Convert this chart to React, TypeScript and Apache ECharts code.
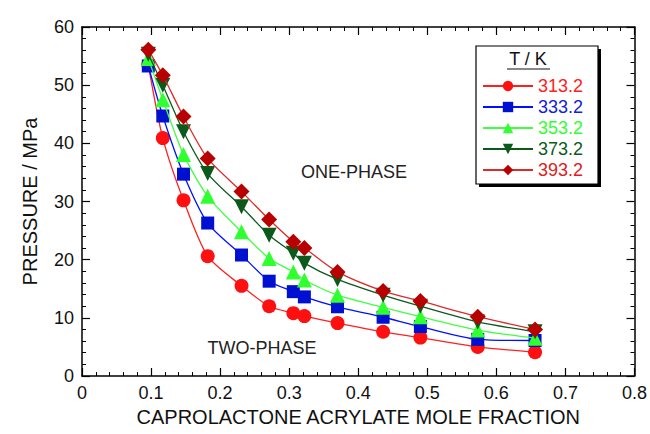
import React, { useEffect, useRef } from "react";
import * as echarts from "echarts";

const moleFraction = [0.096, 0.117, 0.147, 0.182, 0.231, 0.271, 0.306, 0.322, 0.37, 0.436, 0.49, 0.573, 0.656];
const seriesNames = ["313.2", "333.2", "353.2", "373.2", "393.2"];
const p313 = [53.5, 40.9, 30.2, 20.6, 15.5, 12.0, 10.8, 10.3, 9.1, 7.6, 6.6, 5.0, 4.1];
const p333 = [53.3, 44.7, 34.7, 26.3, 20.8, 16.3, 14.5, 13.6, 11.9, 10.1, 8.5, 6.3, 6.1];
const p353 = [54.6, 47.5, 38.1, 30.9, 24.8, 20.2, 17.9, 16.5, 13.9, 11.8, 10.2, 7.9, 6.5];
const p373 = [55.3, 50.0, 42.0, 34.8, 29.1, 24.2, 21.1, 19.4, 16.6, 13.9, 12.0, 9.3, 7.6];
const p393 = [56.1, 51.7, 44.6, 37.4, 31.7, 26.9, 23.1, 22.0, 17.9, 14.6, 12.9, 10.2, 8.0];
const xTicks = [0, 0.1, 0.2, 0.3, 0.4, 0.5, 0.6, 0.7, 0.8];
const yTicks = [0, 10, 20, 30, 40, 50, 60];

const FONT = "Liberation Sans, Arial, sans-serif";

export default function App() {
  const ref = useRef<HTMLDivElement>(null);
  useEffect(() => {
    if (!ref.current) return;
    const chart = echarts.init(ref.current, null, { renderer: "svg" });
    const pressures = [p313, p333, p353, p373, p393];
    const markerColors = ["#ff1010", "#0010d0", "#30ff30", "#0b5a1c", "#b80000"];
    const lineColors = ["#ff2020", "#0010ff", "#40ff40", "#0b5a1c", "#dd2a2a"];
    const textColors = ["#ff2020", "#1020e0", "#30ff30", "#0b5a1c", "#e02020"];
    const symbols = ["circle", "rect", "triangle", "path://M0,0 L10,0 L5,10 Z", "diamond"];
    const sizes = [14, 13, 15, 15, 16];

    const mkAxis = () => ({
      min: 0,
      axisLine: { show: true, onZero: false, lineStyle: { color: "#000", width: 1.5 } },
      axisTick: { show: true, inside: false, length: -8, lineStyle: { color: "#000", width: 1.2 } },
      minorTick: { show: true, splitNumber: 5, length: -4, lineStyle: { color: "#000", width: 1 } },
      splitLine: { show: false },
    });

    const series = seriesNames.map((name, i) => ({
      name,
      type: "line",
      data: moleFraction.map((x, j) => [x, pressures[i][j]]),
      symbol: symbols[i],
      symbolSize: sizes[i],
      smooth: 0.25,
      itemStyle: { color: markerColors[i] },
      lineStyle: { color: lineColors[i], width: 1.3 },
      z: 2 + i,
    }));

    chart.setOption({
      animation: false,
      backgroundColor: "#fff",
      grid: { left: 82, right: 14, top: 27, bottom: 58 },
      xAxis: [
        {
          ...mkAxis(),
          type: "value",
          max: 0.8,
          interval: 0.1,
          position: "bottom",
          name: "CAPROLACTONE ACRYLATE MOLE FRACTION",
          nameLocation: "middle",
          nameGap: 26,
          nameTextStyle: { fontFamily: FONT, fontSize: 20, color: "#111" },
          axisLabel: {
            fontFamily: FONT,
            fontSize: 18,
            color: "#111",
            margin: 8,
            formatter: (v: number) => {
              const t = xTicks.find((k) => Math.abs(k - v) < 1e-9);
              return t === undefined ? "" : String(t);
            },
          },
        },
        {
          ...mkAxis(),
          type: "value",
          max: 0.8,
          interval: 0.1,
          position: "top",
          axisLabel: { show: false },
        },
      ],
      yAxis: [
        {
          ...mkAxis(),
          type: "value",
          max: 60,
          interval: 10,
          position: "left",
          name: "PRESSURE / MPa",
          nameLocation: "middle",
          nameGap: 42,
          nameTextStyle: { fontFamily: FONT, fontSize: 20, color: "#111" },
          axisLabel: {
            fontFamily: FONT,
            fontSize: 18,
            color: "#111",
            margin: 8,
            formatter: (v: number) => {
              const t = yTicks.find((k) => Math.abs(k - v) < 1e-9);
              return t === undefined ? "" : String(t);
            },
          },
        },
        {
          ...mkAxis(),
          type: "value",
          max: 60,
          interval: 10,
          position: "right",
          axisLabel: { show: false },
        },
      ],
      legend: {
        orient: "vertical",
        left: 482,
        top: 77,
        padding: 0,
        itemWidth: 50,
        itemHeight: 13,
        itemGap: 3,
        textStyle: { fontFamily: FONT, fontSize: 18, lineHeight: 18, padding: [0, 0, 0, 0] },
        data: seriesNames.map((n, i) => ({ name: n, textStyle: { color: textColors[i] } })),
        z: 10,
      },
      graphic: [
        { type: "rect", z: 5, shape: { x: 479, y: 49, width: 122, height: 138 }, style: { fill: "#000" } },
        {
          type: "rect",
          z: 6,
          shape: { x: 476, y: 46, width: 122, height: 138 },
          style: { fill: "#fff", stroke: "#000", lineWidth: 1.2 },
        },
        {
          type: "text",
          z: 7,
          x: 528,
          y: 59,
          style: { text: "T / K", fontFamily: FONT, fontSize: 18, fill: "#111", align: "center", verticalAlign: "middle" },
        },
        { type: "line", z: 7, shape: { x1: 507, y1: 69, x2: 550, y2: 69 }, style: { stroke: "#111", lineWidth: 1.2 } },
        {
          type: "text",
          z: 7,
          x: 354,
          y: 172,
          style: { text: "ONE-PHASE", fontFamily: FONT, fontSize: 18, fill: "#222", align: "center", verticalAlign: "middle" },
        },
        {
          type: "text",
          z: 7,
          x: 262,
          y: 348,
          style: { text: "TWO-PHASE", fontFamily: FONT, fontSize: 18, fill: "#222", align: "center", verticalAlign: "middle" },
        },
      ],
      series,
    });
    return () => chart.dispose();
  }, []);
  return <div ref={ref} style={{ width: 650, height: 434, position: "absolute", left: 0, top: 0 }} />;
}
